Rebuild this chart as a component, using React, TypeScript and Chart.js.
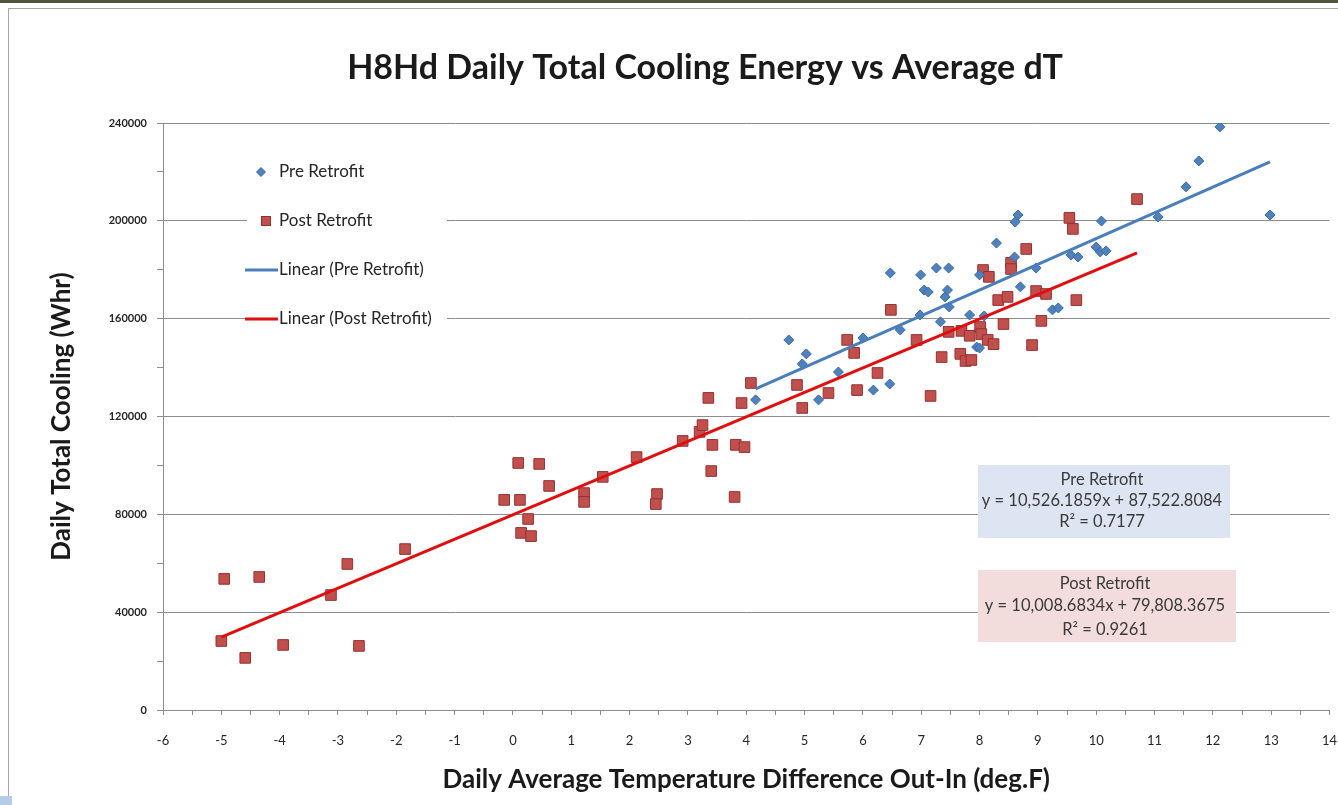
import React, { useEffect, useRef } from "react";
import { Chart, registerables } from "chart.js";

Chart.register(...registerables);

const TITLE = "H8Hd Daily Total Cooling Energy vs Average dT";
const X_TITLE = "Daily Average Temperature Difference Out-In (deg.F)";
const Y_TITLE = "Daily Total Cooling (Whr)";

const PRE_LABEL = "Pre Retrofit";
const POST_LABEL = "Post Retrofit";
const PRE_FIT_LABEL = "Linear (Pre Retrofit)";
const POST_FIT_LABEL = "Linear (Post Retrofit)";

// Pre retrofit (blue diamonds)
const preX = [4.16, 4.73, 4.96, 5.03, 5.24, 5.58, 6.0, 6.18, 6.47, 6.46, 6.64, 6.98, 6.99, 7.05, 7.26, 7.33, 7.12, 7.41, 7.45, 7.48, 7.47, 7.83, 7.95, 8.0, 8.0, 8.08, 8.29, 8.6, 8.61, 8.66, 8.7, 8.97, 9.25, 9.35, 9.57, 9.69, 10.0, 10.07, 10.17, 10.09, 11.06, 11.54, 11.76, 12.12, 12.98];
const preY = [126800, 151300, 141500, 145600, 126800, 138200, 152100, 130800, 178700, 133300, 155400, 161500, 177900, 171700, 180700, 158700, 170900, 168900, 171700, 164800, 180700, 161500, 148400, 148000, 177900, 161100, 190900, 185200, 199500, 202400, 173000, 180700, 163600, 164400, 186000, 185200, 189300, 187300, 187700, 199900, 201600, 213900, 224500, 238400, 202400];

// Post retrofit (red squares)
const postX = [-5.0, -4.95, -4.59, -4.35, -3.94, -3.12, -2.84, -2.64, -1.85, -0.15, 0.09, 0.12, 0.14, 0.26, 0.31, 0.45, 0.62, 1.22, 1.22, 1.54, 2.12, 2.47, 2.45, 2.91, 3.2, 3.25, 3.35, 3.42, 3.4, 3.82, 3.97, 3.8, 3.92, 4.08, 4.87, 4.96, 5.41, 5.73, 5.85, 5.9, 6.25, 6.48, 6.92, 7.16, 7.35, 7.47, 7.67, 7.76, 7.86, 7.69, 7.83, 8.01, 8.03, 8.14, 8.24, 8.06, 8.16, 8.32, 8.48, 8.41, 8.54, 8.54, 8.8, 8.9, 8.97, 9.06, 9.14, 9.54, 9.6, 9.66, 10.7];
const postY = [28200, 53600, 21300, 54400, 26600, 47000, 59700, 26200, 65800, 85900, 101000, 85900, 72400, 78100, 71100, 100600, 91600, 88700, 85100, 95300, 103400, 88300, 84200, 110000, 113700, 116500, 127600, 108400, 97700, 108400, 107500, 87100, 125500, 133700, 132900, 123500, 129600, 151300, 146000, 130800, 137800, 163600, 151300, 128400, 144300, 154600, 145600, 142700, 143100, 155000, 153000, 156600, 153700, 151300, 149600, 179900, 177100, 167600, 168900, 157800, 182800, 180300, 188500, 149200, 171300, 159100, 170100, 201200, 196700, 167600, 208900];

// Linear fits as printed on the chart
const preFit = { slope: 10526.1859, intercept: 87522.8084 };
const postFit = { slope: 10008.6834, intercept: 79808.3675 };
const preEqText = ["Pre Retrofit", "y = 10,526.1859x + 87,522.8084", "R² = 0.7177"];
const postEqText = ["Post Retrofit", "y = 10,008.6834x + 79,808.3675", "R² = 0.9261"];

const X_MIN = -6;
const X_MAX = 14;
const X_STEP = 0.5;
const Y_MIN = 0;
const Y_MAX = 240000;
const Y_STEP = 20000;
const Y_LABEL_STEP = 40000;

const FONT = 'Lato, "Open Sans", "DejaVu Sans", sans-serif';
const BLUE = "#4F81BD";
const BLUE_DARK = "#3A6AA6";
const RED = "#C0504D";
const RED_DARK = "#98302D";
const PRE_LINE = "#4A7EBB";
const POST_LINE = "#E00F0F";
const GRID = "#8C8C8C";

function fitLine(xs: number[], fit: { slope: number; intercept: number }) {
  const lo = Math.min(...xs);
  const hi = Math.max(...xs);
  return [
    { x: lo, y: fit.slope * lo + fit.intercept },
    { x: hi, y: fit.slope * hi + fit.intercept },
  ];
}

const overlayPlugin = {
  id: "overlay",
  afterDraw(chart: any) {
    const ctx = chart.ctx as CanvasRenderingContext2D;
    const ca = chart.chartArea;
    ctx.save();

    // Title
    ctx.fillStyle = "#1A1A1A";
    ctx.font = `bold 34px ${FONT}`;
    ctx.textAlign = "center";
    ctx.textBaseline = "middle";
    ctx.fillText(TITLE, ca.left + 542, ca.top - 55);

    // Legend (inside plot, top-left)
    const lx = ca.left + 84;
    const ly = ca.top + 27;
    ctx.fillStyle = "#FFFFFF";
    ctx.fillRect(lx, ly, 200, 186);
    const rows = [ly + 22, ly + 71, ly + 120, ly + 169];
    const textX = lx + 32;
    ctx.font = `17px ${FONT}`;
    ctx.textAlign = "left";
    ctx.textBaseline = "middle";
    // diamond
    ctx.fillStyle = BLUE;
    ctx.strokeStyle = BLUE_DARK;
    ctx.lineWidth = 1;
    ctx.beginPath();
    const dx = lx + 14, dy = rows[0];
    ctx.moveTo(dx, dy - 4.5);
    ctx.lineTo(dx + 4.5, dy);
    ctx.lineTo(dx, dy + 4.5);
    ctx.lineTo(dx - 4.5, dy);
    ctx.closePath();
    ctx.fill();
    ctx.stroke();
    // square
    ctx.fillStyle = RED;
    ctx.strokeStyle = RED_DARK;
    ctx.fillRect(lx + 14, rows[1] - 5, 10, 10);
    ctx.strokeRect(lx + 14.5, rows[1] - 4.5, 9, 9);
    // lines
    ctx.lineWidth = 3;
    ctx.strokeStyle = PRE_LINE;
    ctx.beginPath();
    ctx.moveTo(lx - 2, rows[2]);
    ctx.lineTo(lx + 31, rows[2]);
    ctx.stroke();
    ctx.strokeStyle = POST_LINE;
    ctx.beginPath();
    ctx.moveTo(lx - 2, rows[3]);
    ctx.lineTo(lx + 31, rows[3]);
    ctx.stroke();
    ctx.fillStyle = "#262626";
    ctx.fillText(PRE_LABEL, textX, rows[0]);
    ctx.fillText(POST_LABEL, textX, rows[1]);
    ctx.fillText(PRE_FIT_LABEL, textX, rows[2]);
    ctx.fillText(POST_FIT_LABEL, textX, rows[3]);

    // Equation boxes
    const drawBox = (x: number, y: number, w: number, h: number, fill: string, lines: string[], offs: number[]) => {
      ctx.fillStyle = fill;
      ctx.fillRect(x, y, w, h);
      ctx.fillStyle = "#3A3A3A";
      ctx.font = `16.5px ${FONT}`;
      ctx.textAlign = "center";
      ctx.textBaseline = "middle";
      lines.forEach((t, i) => ctx.fillText(t, x + w / 2 - 2, y + offs[i]));
    };
    drawBox(ca.left + 815, ca.top + 342, 252, 73, "#DCE5F1", preEqText, [15, 36, 57]);
    drawBox(ca.left + 815, ca.top + 447, 258, 72, "#F3DDDC", postEqText, [14, 36, 60]);

    ctx.restore();
  },
};

export default function App() {
  const ref = useRef<HTMLCanvasElement | null>(null);

  useEffect(() => {
    if (!ref.current) return;
    const preData = preX.map((x, i) => ({ x, y: preY[i] }));
    const postData = postX.map((x, i) => ({ x, y: postY[i] }));

    const chart = new Chart(ref.current, {
      type: "scatter",
      data: {
        datasets: [
          {
            type: "line",
            label: PRE_FIT_LABEL,
            data: fitLine(preX, preFit),
            borderColor: PRE_LINE,
            borderWidth: 3,
            pointRadius: 0,
            showLine: true,
            fill: false,
          } as any,
          {
            type: "line",
            label: POST_FIT_LABEL,
            data: fitLine(postX, postFit),
            borderColor: POST_LINE,
            borderWidth: 3,
            pointRadius: 0,
            showLine: true,
            fill: false,
          } as any,
          {
            label: PRE_LABEL,
            data: preData,
            pointStyle: "rectRot",
            pointRadius: 5,
            backgroundColor: BLUE,
            borderColor: BLUE_DARK,
            borderWidth: 1,
          },
          {
            label: POST_LABEL,
            data: postData,
            pointStyle: "rect",
            pointRadius: 7.5,
            backgroundColor: RED,
            borderColor: RED_DARK,
            borderWidth: 1,
          },
        ],
      },
      options: {
        responsive: false,
        animation: false,
        devicePixelRatio: 1,
        events: [],
        layout: { padding: { top: 123, left: 0, right: 7, bottom: 0 } },
        plugins: {
          legend: { display: false },
          tooltip: { enabled: false },
          title: { display: false },
        },
        scales: {
          x: {
            type: "linear",
            min: X_MIN,
            max: X_MAX,
            afterFit: (s: any) => {
              s.height = 95;
              s.paddingRight = 0;
              s.paddingLeft = 0;
            },
            ticks: {
              stepSize: X_STEP,
              autoSkip: false,
              maxRotation: 0,
              padding: 18,
              color: "#262626",
              font: { family: FONT, size: 13 },
              callback: (v: any) => (Number.isInteger(Number(v)) ? String(v) : ""),
            },
            grid: {
              drawOnChartArea: false,
              drawTicks: true,
              tickLength: 5,
              tickColor: GRID,
            },
            border: { display: true, color: GRID, width: 1 },
            title: {
              display: true,
              text: X_TITLE,
              color: "#1A1A1A",
              font: { family: FONT, size: 26, weight: "bold" },
              padding: { top: 0, bottom: 10 },
            },
          },
          y: {
            type: "linear",
            min: Y_MIN,
            max: Y_MAX,
            afterFit: (s: any) => {
              s.width = 163;
            },
            ticks: {
              stepSize: Y_STEP,
              autoSkip: false,
              padding: 10,
              color: "#262626",
              font: { family: FONT, size: 11, weight: "bold" },
              callback: (v: any) => (Number(v) % Y_LABEL_STEP === 0 ? String(v) : ""),
            },
            grid: {
              color: (c: any) => (c.tick && c.tick.value % Y_LABEL_STEP === 0 && c.tick.value !== 0 ? GRID : "rgba(0,0,0,0)"),
              tickColor: GRID,
              tickLength: 6,
              lineWidth: 1,
            },
            border: { display: true, color: GRID, width: 1 },
            title: {
              display: true,
              text: Y_TITLE,
              color: "#1A1A1A",
              font: { family: FONT, size: 26, weight: "bold" },
              padding: { top: 46, bottom: 0 },
            },
          },
        },
      },
      plugins: [overlayPlugin],
    });
    return () => chart.destroy();
  }, []);

  return (
    <div style={{ position: "absolute", left: 0, top: 0, width: 1338, height: 805, background: "#FFFFFF", overflow: "hidden" }}>
      <div style={{ position: "absolute", left: 0, top: 0, width: 1338, height: 3, background: "#55553F" }} />
      <div style={{ position: "absolute", left: 8, top: 8, width: 1330, height: 790, borderLeft: "1px solid #A8A8A8", borderTop: "1px solid #A8A8A8" }} />
      <div style={{ position: "absolute", left: 0, top: 796, width: 12, height: 9, background: "#B4CCE8" }} />
      <canvas ref={ref} width={1338} height={805} style={{ position: "absolute", left: 0, top: 0, width: 1338, height: 805 }} />
    </div>
  );
}
